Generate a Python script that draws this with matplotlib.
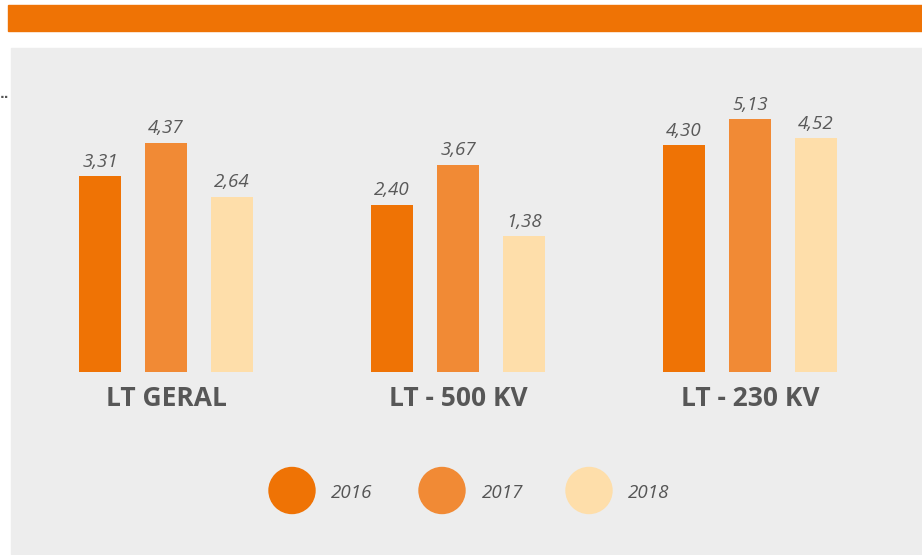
import matplotlib
matplotlib.use("Agg")
import matplotlib.pyplot as plt
from matplotlib.patches import Rectangle, Circle
import numpy as np

# Data
categories = ["LT GERAL", "LT - 500 KV", "LT - 230 KV"]
years = ["2016", "2017", "2018"]
values_2016 = [3.31, 2.40, 4.30]
values_2017 = [4.37, 3.67, 5.13]
values_2018 = [2.64, 1.38, 4.52]
series = [values_2016, values_2017, values_2018]
colors = ["#EF7305", "#F18A35", "#FEDEAA"]

W, H = 922, 555
DPI = 100
fig = plt.figure(figsize=(W / DPI, H / DPI), dpi=DPI)
fig.patch.set_facecolor("white")


def fx(px):
    return px / W


def fy(py):
    return 1 - py / H


# Header band and panel background
fig.patches.append(Rectangle((fx(8), fy(31)), fx(922 - 8), (31 - 5) / H,
                             transform=fig.transFigure, color="#EF7305", zorder=-2))
fig.patches.append(Rectangle((fx(11), fy(554)), fx(922 - 11), (554 - 48) / H,
                             transform=fig.transFigure, color="#EDEDED", zorder=-2))
fig.text(fx(0), fy(98), "··", fontsize=9, fontweight="bold", color="#555555",
         ha="left", va="center")

# Bar axes: full figure width, baseline at y=372 px
ax_bottom_px, ax_top_px = 372, 60
ax = fig.add_axes([0, fy(ax_bottom_px), 1, (ax_bottom_px - ax_top_px) / H])
ax.set_facecolor("none")
ymin = -2.95
ymax = ymin + (ax_bottom_px - ax_top_px) / 31.3
ax.set_ylim(ymin, ymax)
group_px = 292
ax.set_xlim(-166 / group_px, (W - 166) / group_px)
for s in ax.spines.values():
    s.set_visible(False)
ax.set_xticks([])
ax.set_yticks([])

x = np.arange(len(categories))
offset = 66 / group_px
width = 42 / group_px
label_font = dict(family=["Open Sans", "DejaVu Sans"], style="italic",
                  fontsize=13.5, color="#595959")
for i, vals in enumerate(series):
    xs = x + (i - 1) * offset
    heights = [v - ymin for v in vals]
    ax.bar(xs, heights, width=width, bottom=ymin, color=colors[i], zorder=2)
    for xi, v in zip(xs, vals):
        ax.annotate(f"{v:.2f}".replace(".", ","), (xi, v), xytext=(0, 4),
                    textcoords="offset points", ha="center", va="bottom",
                    **label_font)

for xi, cat in zip(x, categories):
    ax.annotate(cat, (xi, ymin), xytext=(0, -19), textcoords="offset points",
                ha="center", va="center", family=["Open Sans", "DejaVu Sans"],
                fontweight="bold", fontsize=19, color="#575757")

# Legend with circular markers
legend_circles_px = [292, 442, 589]
legend_text_px = [331, 482, 628]
for cx, tx, yr, c in zip(legend_circles_px, legend_text_px, years, colors):
    fig.patches.append(Circle((cx, H - 490.5), 23, transform=None, color=c,
                              zorder=3))
    fig.text(fx(tx), fy(493), yr, ha="left", va="center",
             family=["Open Sans", "DejaVu Sans"], style="italic",
             fontsize=13.5, color="#555555")

fig.savefig("out.png", dpi=DPI, facecolor="white")
